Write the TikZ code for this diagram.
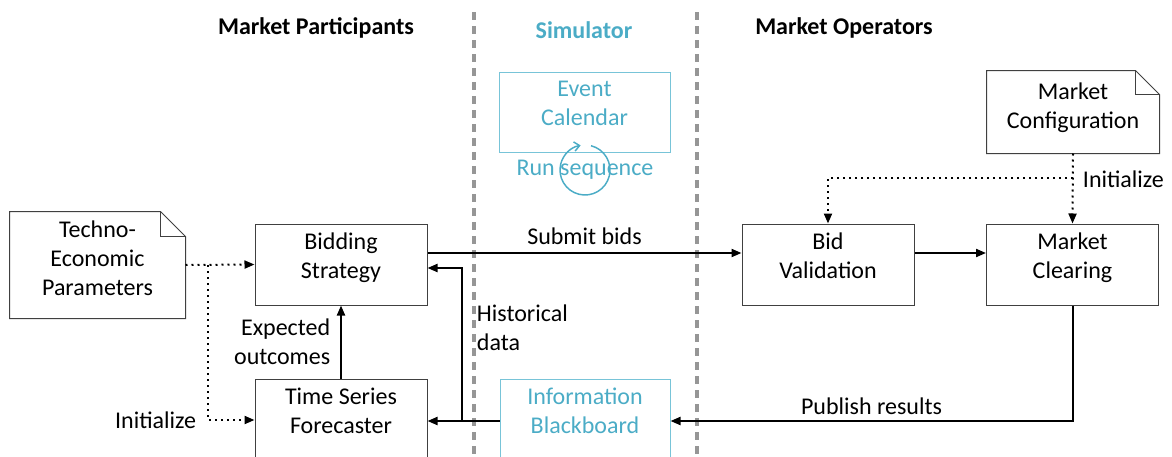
\documentclass[tikz,border=0pt]{standalone}
\usepackage{fontspec}
\setmainfont{Carlito}
\usetikzlibrary{arrows.meta,calc}

\tikzset{every picture/.style={line width=0.75pt}}
\tikzset{
  blockbox/.style={draw={rgb, 255:red, 64; green, 64; blue, 64}, align=center, minimum width=129pt, minimum height=60.75pt, text depth=13pt, inner sep=0pt},
  simbox/.style={blockbox, draw={rgb, 255:red, 120; green, 196; blue, 216}, text={rgb, 255:red, 75; green, 172; blue, 198}},
  notebox/.style={align=center, text depth=10pt, inner sep=0pt},
  notedraw/.style={draw={rgb, 255:red, 64; green, 64; blue, 64}, line width=0.75pt},
  flow/.style={line width=1.5pt, -{Triangle[length=7.5pt,width=6pt]}},
  initline/.style={line width=1.5pt, dash pattern={on 1.5pt off 3pt}, -{Triangle[length=7.5pt,width=6pt]}},
  lanesep/.style={draw={rgb, 255:red, 150; green, 150; blue, 150}, line width=2.5pt, dash pattern={on 6pt off 4.5pt}},
  header/.style={font=\fontsize{18}{21.75}\selectfont\bfseries}
}

\begin{document}
\begin{tikzpicture}[x=0.75pt,y=0.75pt,yscale=-1,xscale=1,font=\fontsize{18}{21.75}\selectfont]
\clip (0,0) rectangle (1172,457);

%Lane separators
\draw [lanesep] (474,12) -- (474,470);
\draw [lanesep] (697,12) -- (697,470);

% Text Node
\node [header] (mp) at (316,28) {Market Participants};
% Text Node
\node [header, text={rgb, 255:red, 75; green, 172; blue, 198}] (sim) at (584,30) {Simulator};
% Text Node
\node [header] (mo) at (844,28) {Market Operators};

%Simulator
\node [simbox, minimum width=128.25pt, minimum height=60pt] (ec) at (584.5,112) {Event\\Calendar};
\node [text={rgb, 255:red, 75; green, 172; blue, 198}] (rs) at (585,170) {Run sequence};
\draw [color={rgb, 255:red, 75; green, 172; blue, 198}, line width=1.1pt, -{Straight Barb[length=4pt,width=7pt]}] (rs.center) ++(-76:25) arc [start angle=-76, end angle=260, radius=25];
\node [simbox, minimum width=127.5pt] (ib) at (585,419.5) {Information\\Blackboard};

%Market participants
\node [notebox, minimum width=131.25pt, minimum height=79.5pt] (tep) at (97.5,265) {Techno-\\Economic\\Parameters};
\draw [notedraw] (tep.south west) -- (tep.north west) -- ($(tep.north east)+(-25,0)$) -- ($(tep.north east)+(0,25)$) -- (tep.south east) -- cycle;
\draw [notedraw] ($(tep.north east)+(-25,0)$) |- ($(tep.north east)+(0,25)$);
\node [blockbox] (bs) at (341,264.5) {Bidding\\Strategy};
\node [blockbox] (tsf) at (341,419.5) {Time Series\\Forecaster};

%Market operators
\node [notebox, minimum width=129pt, minimum height=61.5pt] (mcf) at (1073,112) {Market\\Configuration};
\draw [notedraw] (mcf.south west) -- (mcf.north west) -- ($(mcf.north east)+(-24,0)$) -- ($(mcf.north east)+(0,24)$) -- (mcf.south east) -- cycle;
\draw [notedraw] ($(mcf.north east)+(-24,0)$) |- ($(mcf.north east)+(0,24)$);
\node [blockbox] (bv) at (828,264.5) {Bid\\Validation};
\node [blockbox] (mc) at (1072.5,264.5) {Market\\Clearing};

%Flows
\draw [flow] (bs.east |- 0,253) -- (bv.west |- 0,253) node [midway, above=2pt] {Submit bids};
\draw [flow] (bv.east |- 0,253) -- (mc.west |- 0,253);
\draw [flow] (tsf.north) -- (bs.south) node [pos=0.5, left=4pt, align=right] {Expected\\outcomes};
\draw [flow] (mc.south) |- (ib.east |- 0,421) node [pos=0.75, above=1pt] {Publish results};
\draw [flow] (ib.west |- 0,421) -- (tsf.east |- 0,421);
\coordinate (hsplit) at (462,421);
\draw [flow] (hsplit) -- (462,268) -- (bs.east |- 0,268);
% Text Node
\node [anchor=west, align=left] (hd) at (472,328) {Historical\\data};

%Initialization
\draw [initline] (tep.east) -- (bs.west);
\coordinate (tsplit) at (208,265);
\draw [initline] (tsplit) |- (tsf.west |- 0,420);
\node [anchor=east] (ini1) at (201,420) {Initialize};
\draw [initline] (mcf.south) -- (mc.north);
\coordinate (csplit) at (1073,178);
\draw [initline] (csplit) -| (bv.north);
\node [anchor=west] (ini2) at (1078,179) {Initialize};
\end{tikzpicture}
\end{document}
